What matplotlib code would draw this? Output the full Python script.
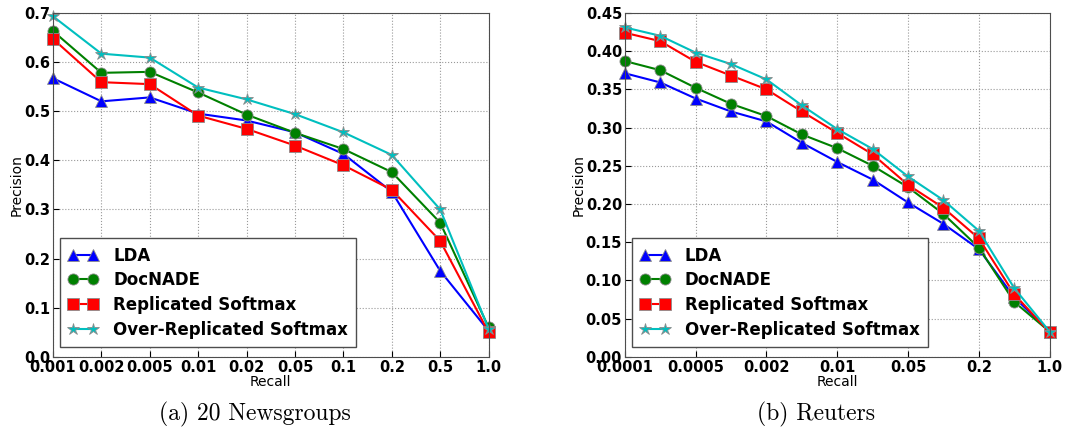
import numpy as np
import matplotlib
matplotlib.use("Agg")
import matplotlib.pyplot as plt

# 20 Newsgroups
ng_ticks = ['0.001', '0.002', '0.005', '0.01', '0.02', '0.05', '0.1', '0.2', '0.5', '1.0']
ng_lda = [0.567, 0.520, 0.528, 0.495, 0.481, 0.457, 0.413, 0.336, 0.175, 0.053]
ng_docnade = [0.663, 0.578, 0.580, 0.538, 0.493, 0.456, 0.423, 0.376, 0.273, 0.060]
ng_rs = [0.647, 0.559, 0.555, 0.491, 0.464, 0.430, 0.390, 0.340, 0.236, 0.050]
ng_ors = [0.693, 0.617, 0.609, 0.548, 0.524, 0.494, 0.457, 0.411, 0.300, 0.057]

# Reuters (13 recall levels, every other one labelled)
rt_ticks = ['0.0001', '0.0005', '0.002', '0.01', '0.05', '0.2', '1.0']
rt_lda = [0.371, 0.359, 0.338, 0.321, 0.308, 0.280, 0.255, 0.232, 0.202, 0.174, 0.141, 0.078, 0.033]
rt_docnade = [0.387, 0.375, 0.352, 0.331, 0.315, 0.291, 0.273, 0.250, 0.222, 0.187, 0.143, 0.072, 0.033]
rt_rs = [0.424, 0.413, 0.386, 0.368, 0.350, 0.321, 0.293, 0.265, 0.225, 0.195, 0.155, 0.082, 0.032]
rt_ors = [0.431, 0.420, 0.398, 0.383, 0.363, 0.329, 0.298, 0.272, 0.236, 0.205, 0.165, 0.090, 0.033]

labels = ['LDA', 'DocNADE', 'Replicated Softmax', 'Over-Replicated Softmax']
styles = [('b', '^', 8), ('g', 'o', 8), ('r', 's', 8), ('c', '*', 9)]

fig = plt.figure(figsize=(10.81, 4.29), dpi=100)
ax1 = fig.add_axes([0.049, 0.168, 0.403, 0.802])
ax2 = fig.add_axes([0.578, 0.168, 0.393, 0.802])


def draw(ax, series, ticklabels, tick_step, ymax, ystep, yfmt):
    n = len(series[0])
    x = np.arange(n)
    for ys, lab, (c, m, ms) in zip(series, labels, styles):
        ax.plot(x, ys, color=c, marker=m, markersize=ms, lw=1.5, label=lab,
                markeredgecolor='0.55', markeredgewidth=0.6, clip_on=False)
    ax.set_xlim(0, n - 1)
    ax.set_ylim(0, ymax)
    ax.set_xticks(np.arange(0, n, tick_step))
    ax.set_xticklabels(ticklabels)
    yt = np.arange(0, ymax + 1e-9, ystep)
    ax.set_yticks(yt)
    ax.set_yticklabels([yfmt % v for v in yt])
    for t in ax.get_xticklabels() + ax.get_yticklabels():
        t.set_fontweight('bold')
        t.set_fontsize(10.5)
    ax.tick_params(direction='in', length=4, pad=2)
    ax.grid(True, linestyle=':', color='0.6', lw=0.8)
    ax.set_xlabel('Recall', fontsize=10, labelpad=0)
    ax.set_ylabel('Precision', fontsize=10, labelpad=0)
    for s in ax.spines.values():
        s.set_color('0.3')
    leg = ax.legend(loc='lower left', bbox_to_anchor=(0.016, 0.029), borderaxespad=0,
                    numpoints=2, fancybox=False, framealpha=1, edgecolor='0.3',
                    prop={'weight': 'bold', 'size': 12}, handlelength=1.8,
                    handletextpad=0.9, borderpad=0.5, labelspacing=0.4)
    leg.get_frame().set_linewidth(1.0)


draw(ax1, [ng_lda, ng_docnade, ng_rs, ng_ors], ng_ticks, 1, 0.7, 0.1, '%.1f')
draw(ax2, [rt_lda, rt_docnade, rt_rs, rt_ors], rt_ticks, 2, 0.45, 0.05, '%.2f')

fig.text(0.236, 0.02, '(a) 20 Newsgroups', ha='center', fontsize=17, family='cmr10')
fig.text(0.755, 0.02, '(b) Reuters', ha='center', fontsize=17, family='cmr10')

fig.savefig('out.png', dpi=100)
